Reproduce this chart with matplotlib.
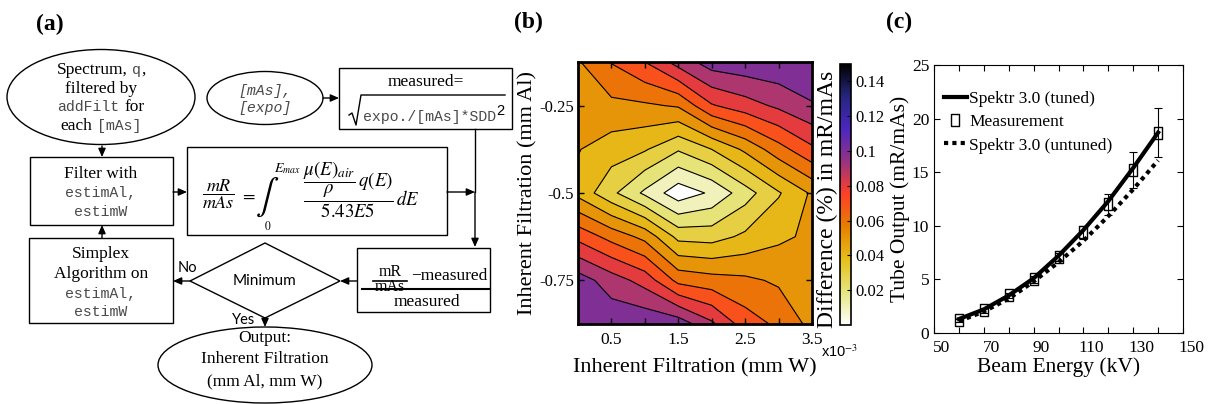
import numpy as np
import matplotlib
matplotlib.use("Agg")
import matplotlib.pyplot as plt
import matplotlib.colors as mcolors
from matplotlib.cm import ScalarMappable
from matplotlib.patches import Ellipse, Rectangle, Polygon
from matplotlib.offsetbox import TextArea, HPacker, AnnotationBbox, DrawingArea
from matplotlib.transforms import ScaledTranslation

plt.rcParams['font.family'] = ['Liberation Serif', 'DejaVu Serif']
plt.rcParams['axes.unicode_minus'] = False
plt.rcParams['mathtext.fontset'] = 'stix'

# ---------------- data panel (b): difference map ----------------
w_filt = [0.0, 0.5, 1.0, 1.5, 2.0, 2.5, 3.0, 3.5]          # x10^-3 mm W
al_filt = [-0.125, -0.25, -0.375, -0.5, -0.625, -0.75, -0.875]  # mm Al
diff = [
    [0.059, 0.0705, 0.080, 0.094, 0.105, 0.107, 0.108, 0.109],
    [0.055, 0.0575, 0.0585, 0.061, 0.079, 0.0855, 0.092, 0.099],
    [0.0505, 0.045, 0.041, 0.031, 0.040, 0.052, 0.066, 0.078],
    [0.047, 0.0325, 0.018, 0.004, 0.0116, 0.0255, 0.039, 0.0515],
    [0.077, 0.0664, 0.057, 0.037, 0.036, 0.042, 0.048, 0.052],
    [0.105, 0.095, 0.086, 0.067, 0.064, 0.062, 0.0585, 0.055],
    [0.108, 0.107, 0.108, 0.106, 0.092, 0.075, 0.068, 0.057],
]
levels = [0.0, 0.01, 0.02, 0.03, 0.04, 0.05, 0.06, 0.07, 0.08, 0.09, 0.10, 0.11]
cbar_ticks = [0.02, 0.04, 0.06, 0.08, 0.1, 0.12, 0.14]
cbar_labels = ['0.02', '0.04', '0.06', '0.08', '0.1', '0.12', '0.14']

# ---------------- data panel (c): tube output ----------------
energy = [60, 70, 80, 90, 100, 110, 120, 130, 140]
meas = [1.2, 2.1, 3.5, 5.0, 7.1, 9.4, 12.0, 15.2, 18.7]
meas_err = [0.15, 0.2, 0.25, 0.3, 0.35, 0.6, 0.95, 1.65, 2.3]
tuned = [1.3, 2.2, 3.5, 5.1, 7.2, 9.6, 12.3, 15.4, 18.7]
untuned = [1.1, 2.0, 3.2, 4.8, 6.6, 8.6, 10.9, 13.4, 16.1]

W, H = 1208, 404
fig = plt.figure(figsize=(W / 100, H / 100), dpi=100)

# ---------------- panel (a): flowchart in pixel coords ----------------
fa = fig.add_axes([0, 0, 1, 1], zorder=0)
fa.set_xlim(0, W)
fa.set_ylim(H, 0)
fa.axis('off')

SERIF = dict(family='Liberation Serif', size=12.5, color='black')
MONO = dict(family='Liberation Mono', size=10.7, color='#4a4a4a')
MONO_IT = dict(MONO, style='italic')
SANS = dict(family='Lato', size=11, color='black')


def line(x, y, parts):
    kids = []
    for p in parts:
        if isinstance(p, (int, float)):
            kids.append(DrawingArea(p, 1))      # small spacer (points)
        else:
            kids.append(TextArea(p[0], textprops=p[1]))
    box = HPacker(children=kids, align='baseline', pad=0, sep=0)
    ab = AnnotationBbox(box, (x, y), xycoords='data', frameon=False,
                        box_alignment=(0.5, 0.5), pad=0)
    fa.add_artist(ab)


def arrow(x0, y0, x1, y1):
    fa.annotate('', xy=(x1, y1), xytext=(x0, y0),
                arrowprops=dict(arrowstyle='-|>,head_length=0.5,head_width=0.22',
                                color='black', lw=1, mutation_scale=10,
                                shrinkA=0, shrinkB=0))


def rect(x0, y0, x1, y1):
    fa.add_patch(Rectangle((x0, y0), x1 - x0, y1 - y0, fill=False, ec='black', lw=1))


def ell(cx, cy, w, h):
    fa.add_patch(Ellipse((cx, cy), w, h, fill=False, ec='black', lw=1))


# spectrum ellipse
ell(101, 97, 188, 95)
line(101, 70, [("Spectrum,", SERIF), 3.5, ("q", MONO), (",", SERIF)])
line(101, 89, [("filtered by", SERIF)])
line(101, 107, [("addFilt", MONO), 3.5, ("for", SERIF)])
line(101, 126, [("each", SERIF), 3.5, ("[mAs]", MONO)])
arrow(102, 146, 102, 157)

# filter box
rect(30, 157, 173, 225)
line(101, 174, [("Filter with", SERIF)])
line(101, 193, [("estimAl,", MONO)])
line(101, 212, [("estimW", MONO)])
arrow(173, 192, 187, 192)

# simplex box
rect(29, 238, 173, 323)
line(101, 254, [("Simplex", SERIF)])
line(101, 274, [("Algorithm on", SERIF)])
line(101, 294, [("estimAl,", MONO)])
line(101, 312, [("estimW", MONO)])
arrow(102, 238, 102, 225)

# [mAs],[expo] ellipse
ell(265, 98, 116, 53)
line(265, 91, [("[mAs],", MONO_IT)])
line(265, 108, [("[expo]", MONO_IT)])
arrow(323, 98, 339, 98)

# measured box
rect(339, 68, 512, 129)
line(426, 82, [("measured=", SERIF)])
fa.plot([349, 352, 356, 361, 505], [115, 113, 125, 95, 95], color='black', lw=1)
line(430, 117, [("expo./[mAs]*SDD", MONO)])
fa.text(500, 111, "2", family='Liberation Sans', fontsize=10.5, ha='center', va='center')
fa.plot([475, 475], [129, 192], color='black', lw=1)
arrow(475, 192, 475, 247)

# integral box
rect(187, 147, 447, 235)
fa.text(218, 194, r"$\dfrac{mR}{mAs}$", fontsize=13, ha='center', va='center')
fa.text(248, 195, r"$=$", fontsize=13, ha='center', va='center')
fa.text(267, 197, r"$\int$", fontsize=25, ha='center', va='center')
fa.text(287, 169, r"$E_{max}$", fontsize=10, ha='center', va='center')
fa.text(268, 226, r"$0$", fontsize=8.5, ha='center', va='center')
fa.text(303, 190, r"$\dfrac{\dfrac{\mu(E)_{air}}{\rho}\,q(E)}{5.43E5}\,dE$", fontsize=13.5,
        ha='left', va='center')
arrow(447, 192, 475, 192)

# ratio box
rect(357, 248, 490, 312)
fa.text(390, 276, "mR", fontsize=11.5, ha='center', va='baseline')
fa.plot([373, 407], [281, 281], color='black', lw=1.2)
fa.text(390, 291, "mAs", fontsize=11.5, ha='center', va='baseline')
fa.text(449, 276, "\u2212measured", fontsize=12.5, ha='center', va='center')
fa.plot([362, 490], [289, 289], color='black', lw=1.5)
fa.text(427, 302, "measured", fontsize=12.5, ha='center', va='center')
arrow(357, 281, 340, 281)

# decision diamond
fa.add_patch(Polygon([(190, 281), (265, 243), (340, 281), (265, 318)], closed=True,
                     fill=False, ec='black', lw=1))
fa.text(265, 281, "Minimum", ha='center', va='center', **SANS)
fa.text(187, 268, "No", ha='center', va='center', family='Lato', fontsize=10.5)
arrow(190, 281, 173, 281)
fa.text(244, 320, "Yes", ha='center', va='center', family='Lato', fontsize=10.5)
arrow(265, 318, 265, 327)

# output ellipse
ell(265, 365, 214, 76)
line(265, 338, [("Output:", SERIF)])
line(265, 359, [("Inherent Filtration", SERIF)])
line(265, 381, [("(mm Al, mm W)", SERIF)])

# ---------------- panel (b): contour ----------------
cmap = plt.get_cmap('CMRmap_r')
norm = mcolors.Normalize(vmin=0, vmax=0.15)
axb = fig.add_axes([578 / W, 1 - 324 / H, 234 / W, 262 / H], zorder=2)
Xg, Yg = np.meshgrid(w_filt, al_filt)
Z = np.array(diff)
band_colors = [cmap(norm(l)) for l in levels[:-1]]
axb.contourf(Xg, Yg, Z, levels=levels, colors=band_colors)
axb.contour(Xg, Yg, Z, levels=levels[1:-1], colors='black', linewidths=0.8)
axb.set_xlim(0, 3.5)
axb.set_ylim(-0.875, -0.125)
axb.set_xticks([0.5, 1.5, 2.5, 3.5])
axb.set_xticklabels(['0.5', '1.5', '2.5', '3.5'])
axb.set_xticks([1.0, 2.0, 3.0], minor=True)
axb.set_yticks([-0.75, -0.5, -0.25])
axb.set_yticklabels(['-0.75', '-0.5', '-0.25'])
axb.tick_params(which='both', direction='in', top=True, right=True, length=4,
                labelsize=12.5, width=1)
axb.tick_params(axis='x', pad=6)
axb.tick_params(axis='y', labelsize=12, pad=3)
for s in axb.spines.values():
    s.set_linewidth(2)
axb.set_xlabel("Inherent Filtration (mm W)", fontsize=16, labelpad=7)
axb.set_ylabel("Inherent Filtration (mm Al)", fontsize=16, labelpad=1)
fig.text(840 / W, 1 - 352 / H, r"x10$^{-3}$", family='Liberation Sans', fontsize=10.5,
         ha='center', va='center')

cax = fig.add_axes([840 / W, 1 - 325 / H, 11 / W, 261 / H], zorder=2)
cb = fig.colorbar(ScalarMappable(norm=norm, cmap=cmap), cax=cax)
cb.set_ticks(cbar_ticks)
cb.set_ticklabels(cbar_labels)
cax.tick_params(direction='in', length=3, labelsize=12, width=0.8)
cb.outline.set_linewidth(1.2)
fig.text(827 / W, 1 - 199 / H, "Difference (%) in mR/mAs", rotation=90,
         fontsize=17, ha='center', va='center')

# ---------------- panel (c): tube output ----------------
axc = fig.add_axes([934 / W, 1 - 333 / H, 249 / W, 268 / H], zorder=2)
rect_marker = [(-0.65, -1), (0.65, -1), (0.65, 1), (-0.65, 1), (-0.65, -1)]
axc.errorbar(energy, meas, yerr=meas_err, fmt='none', ecolor='black',
             elinewidth=0.8, capsize=3, capthick=0.8)
axc.plot(energy, tuned, color='black', lw=3, label='Spektr 3.0 (tuned)')
axc.plot(energy, meas, ls='none', marker=rect_marker, ms=9, mfc='none', mec='black',
         mew=1, label='Measurement')
axc.plot(energy, untuned, color='black', lw=3, ls=(0, (1, 1)),
         label='Spektr 3.0 (untuned)')
axc.set_xlim(50, 150)
axc.set_ylim(0, 25)
axc.set_xticks([50, 70, 90, 110, 130, 150])
axc.set_xticks([60, 80, 100, 120, 140], minor=True)
axc.set_yticks([0, 5, 10, 15, 20, 25])
axc.tick_params(which='both', direction='in', top=True, right=True, length=4,
                labelsize=12.5, width=0.8)
axc.tick_params(axis='x', pad=5)
shift = ScaledTranslation(8 / 100, 0, fig.dpi_scale_trans)
for lbl in axc.get_xticklabels():
    lbl.set_transform(lbl.get_transform() + shift)
axc.set_xlabel("Beam Energy (kV)", fontsize=15.5, labelpad=1)
axc.set_ylabel("Tube Output (mR/mAs)", fontsize=15.5, labelpad=1)
axc.legend(loc='upper left', bbox_to_anchor=(0.04, 0.905), frameon=False, fontsize=12.5,
           handlelength=1.3, handletextpad=0.15, labelspacing=0.42, borderpad=0,
           borderaxespad=0)

# panel letters
fig.text(50 / W, 1 - 24 / H, "(a)", fontsize=17, fontweight='bold', ha='center', va='center')
fig.text(528 / W, 1 - 22 / H, "(b)", fontsize=17, fontweight='bold', ha='center', va='center')
fig.text(899 / W, 1 - 22 / H, "(c)", fontsize=17, fontweight='bold', ha='center', va='center')

fig.savefig("out.png", dpi=100)
